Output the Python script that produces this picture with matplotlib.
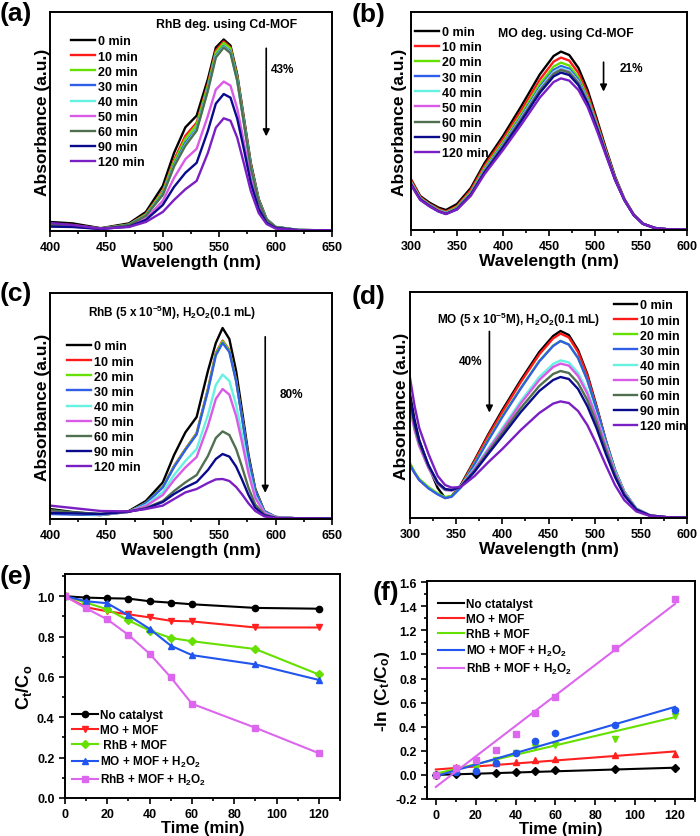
import matplotlib
matplotlib.use("Agg")
import matplotlib.pyplot as plt
from matplotlib.ticker import AutoMinorLocator, MultipleLocator, FormatStrFormatter

plt.rcParams['font.family'] = ['Liberation Sans', 'DejaVu Sans']
plt.rcParams['font.weight'] = 'bold'
plt.rcParams['mathtext.fontset'] = 'custom'
plt.rcParams['mathtext.rm'] = 'Liberation Sans:bold'
plt.rcParams['mathtext.bf'] = 'Liberation Sans:bold'
plt.rcParams['mathtext.it'] = 'Liberation Sans:bold'
plt.rcParams['mathtext.default'] = 'bf'

# ---- data ----
times = ['0 min', '10 min', '20 min', '30 min', '40 min', '50 min', '60 min', '90 min', '120 min']
spec_colors = ['#000000', '#ff1a1a', '#66e000', '#2f5fe8', '#66f2e0', '#d95ae6', '#4f6f4f', '#0a0a8c', '#7a1fc4']

# (a) RhB, Cd-MOF
wl_a = [400, 420, 445, 470, 485, 500, 510, 520, 530, 540, 547, 554, 560, 566, 572, 578, 585, 592, 600, 620, 650]
abs_a = [
    [0.045, 0.038, 0.014, 0.038, 0.095, 0.225, 0.39, 0.517, 0.575, 0.758, 0.915, 0.955, 0.925, 0.78, 0.56, 0.34, 0.16, 0.06, 0.02, 0.005, 0.003],
    [0.035, 0.03, 0.012, 0.033, 0.085, 0.2, 0.355, 0.475, 0.54, 0.735, 0.9, 0.945, 0.915, 0.77, 0.55, 0.33, 0.155, 0.058, 0.02, 0.005, 0.003],
    [0.03, 0.028, 0.012, 0.032, 0.082, 0.195, 0.345, 0.46, 0.53, 0.725, 0.89, 0.938, 0.91, 0.765, 0.545, 0.325, 0.152, 0.057, 0.02, 0.005, 0.003],
    [0.028, 0.025, 0.011, 0.03, 0.078, 0.185, 0.33, 0.44, 0.51, 0.71, 0.875, 0.922, 0.895, 0.755, 0.54, 0.32, 0.15, 0.056, 0.02, 0.005, 0.003],
    [0.028, 0.025, 0.011, 0.03, 0.077, 0.182, 0.325, 0.43, 0.505, 0.705, 0.87, 0.918, 0.89, 0.75, 0.535, 0.318, 0.149, 0.056, 0.02, 0.005, 0.003],
    [0.025, 0.022, 0.01, 0.025, 0.062, 0.15, 0.265, 0.358, 0.41, 0.575, 0.705, 0.745, 0.725, 0.61, 0.44, 0.26, 0.12, 0.045, 0.016, 0.004, 0.003],
    [0.03, 0.027, 0.012, 0.03, 0.076, 0.18, 0.322, 0.425, 0.5, 0.7, 0.865, 0.915, 0.887, 0.748, 0.533, 0.317, 0.148, 0.056, 0.02, 0.005, 0.003],
    [0.022, 0.02, 0.01, 0.022, 0.055, 0.13, 0.22, 0.29, 0.34, 0.5, 0.635, 0.683, 0.665, 0.56, 0.405, 0.24, 0.11, 0.04, 0.015, 0.004, 0.003],
    [0.04, 0.03, 0.012, 0.02, 0.045, 0.095, 0.155, 0.208, 0.25, 0.39, 0.515, 0.562, 0.55, 0.465, 0.335, 0.2, 0.09, 0.035, 0.012, 0.004, 0.003],
]

# (b) MO, Cd-MOF
wl_b = [300, 310, 320, 330, 338, 350, 365, 380, 400, 420, 440, 455, 463, 472, 482, 492, 502, 512, 522, 532, 542, 552, 565, 580, 600]
abs_b = [
    [0.253, 0.17, 0.137, 0.112, 0.1, 0.13, 0.21, 0.335, 0.47, 0.62, 0.778, 0.87, 0.892, 0.875, 0.81, 0.7, 0.555, 0.405, 0.265, 0.155, 0.078, 0.032, 0.01, 0.003, 0.002],
    [0.25, 0.165, 0.13, 0.105, 0.092, 0.12, 0.2, 0.322, 0.455, 0.6, 0.752, 0.842, 0.862, 0.847, 0.785, 0.68, 0.542, 0.397, 0.26, 0.153, 0.077, 0.032, 0.01, 0.003, 0.002],
    [0.24, 0.16, 0.127, 0.1, 0.088, 0.115, 0.19, 0.31, 0.44, 0.582, 0.73, 0.817, 0.837, 0.822, 0.763, 0.662, 0.53, 0.39, 0.256, 0.151, 0.076, 0.031, 0.01, 0.003, 0.002],
    [0.235, 0.158, 0.125, 0.098, 0.085, 0.11, 0.185, 0.302, 0.43, 0.57, 0.715, 0.8, 0.82, 0.806, 0.75, 0.652, 0.522, 0.385, 0.253, 0.15, 0.075, 0.031, 0.01, 0.003, 0.002],
    [0.235, 0.157, 0.124, 0.097, 0.084, 0.108, 0.182, 0.298, 0.425, 0.563, 0.707, 0.79, 0.81, 0.797, 0.742, 0.646, 0.518, 0.383, 0.252, 0.15, 0.075, 0.031, 0.01, 0.003, 0.002],
    [0.232, 0.156, 0.123, 0.096, 0.083, 0.107, 0.18, 0.295, 0.422, 0.558, 0.7, 0.783, 0.803, 0.79, 0.737, 0.642, 0.516, 0.382, 0.252, 0.15, 0.075, 0.031, 0.01, 0.003, 0.002],
    [0.23, 0.155, 0.122, 0.095, 0.082, 0.106, 0.179, 0.293, 0.42, 0.555, 0.697, 0.78, 0.8, 0.787, 0.734, 0.64, 0.515, 0.381, 0.251, 0.15, 0.075, 0.031, 0.01, 0.003, 0.002],
    [0.228, 0.153, 0.12, 0.093, 0.08, 0.104, 0.176, 0.288, 0.413, 0.546, 0.686, 0.768, 0.787, 0.775, 0.724, 0.633, 0.51, 0.378, 0.25, 0.149, 0.075, 0.031, 0.01, 0.003, 0.002],
    [0.225, 0.15, 0.118, 0.092, 0.08, 0.102, 0.171, 0.28, 0.4, 0.528, 0.662, 0.74, 0.758, 0.747, 0.7, 0.615, 0.498, 0.372, 0.248, 0.149, 0.075, 0.031, 0.01, 0.003, 0.003],
]

# (c) RhB + H2O2
wl_c = [400, 420, 445, 470, 485, 500, 510, 520, 530, 540, 547, 553, 559, 565, 570, 576, 582, 590, 600, 620, 650]
abs_c = [
    [0.05, 0.035, 0.022, 0.04, 0.09, 0.183, 0.32, 0.433, 0.51, 0.74, 0.88, 0.955, 0.9, 0.74, 0.55, 0.32, 0.15, 0.04, 0.01, 0.003, 0.002],
    [0.03, 0.025, 0.02, 0.036, 0.08, 0.16, 0.265, 0.35, 0.43, 0.65, 0.83, 0.892, 0.845, 0.695, 0.52, 0.3, 0.14, 0.038, 0.01, 0.003, 0.002],
    [0.03, 0.025, 0.02, 0.036, 0.08, 0.16, 0.263, 0.348, 0.428, 0.647, 0.826, 0.888, 0.842, 0.693, 0.518, 0.3, 0.14, 0.038, 0.01, 0.003, 0.002],
    [0.025, 0.022, 0.02, 0.036, 0.079, 0.158, 0.26, 0.345, 0.423, 0.64, 0.818, 0.88, 0.835, 0.688, 0.515, 0.298, 0.139, 0.038, 0.01, 0.003, 0.002],
    [0.035, 0.028, 0.022, 0.036, 0.07, 0.135, 0.22, 0.29, 0.35, 0.52, 0.67, 0.722, 0.69, 0.57, 0.43, 0.25, 0.115, 0.032, 0.009, 0.003, 0.002],
    [0.04, 0.03, 0.024, 0.036, 0.065, 0.12, 0.195, 0.258, 0.31, 0.465, 0.6, 0.65, 0.622, 0.515, 0.39, 0.228, 0.105, 0.03, 0.008, 0.003, 0.002],
    [0.045, 0.033, 0.026, 0.037, 0.055, 0.09, 0.14, 0.183, 0.22, 0.315, 0.405, 0.438, 0.42, 0.35, 0.265, 0.155, 0.072, 0.022, 0.006, 0.003, 0.002],
    [0.03, 0.028, 0.025, 0.037, 0.052, 0.085, 0.125, 0.158, 0.185, 0.245, 0.3, 0.325, 0.312, 0.262, 0.2, 0.12, 0.056, 0.018, 0.005, 0.003, 0.002],
    [0.067, 0.055, 0.04, 0.038, 0.05, 0.067, 0.1, 0.133, 0.15, 0.18, 0.198, 0.2, 0.19, 0.16, 0.125, 0.078, 0.04, 0.013, 0.004, 0.003, 0.002],
]

# (d) MO + H2O2
wl_d = [300, 305, 310, 320, 330, 338, 345, 355, 370, 385, 400, 420, 440, 455, 463, 472, 482, 492, 502, 512, 522, 532, 545, 560, 580, 600]
abs_d = [
    [0.62, 0.49, 0.39, 0.26, 0.15, 0.1, 0.11, 0.165, 0.29, 0.42, 0.54, 0.69, 0.83, 0.91, 0.935, 0.915, 0.84, 0.72, 0.56, 0.39, 0.24, 0.13, 0.045, 0.012, 0.003, 0.002],
    [0.265, 0.225, 0.19, 0.15, 0.12, 0.1, 0.108, 0.16, 0.285, 0.413, 0.53, 0.68, 0.818, 0.898, 0.922, 0.903, 0.83, 0.712, 0.555, 0.387, 0.238, 0.129, 0.045, 0.012, 0.003, 0.002],
    [0.275, 0.23, 0.195, 0.155, 0.123, 0.105, 0.11, 0.155, 0.275, 0.395, 0.51, 0.65, 0.785, 0.862, 0.885, 0.868, 0.8, 0.69, 0.545, 0.385, 0.24, 0.132, 0.047, 0.013, 0.003, 0.002],
    [0.265, 0.225, 0.19, 0.148, 0.118, 0.1, 0.106, 0.152, 0.27, 0.39, 0.505, 0.648, 0.783, 0.86, 0.885, 0.867, 0.8, 0.69, 0.545, 0.385, 0.24, 0.132, 0.047, 0.013, 0.003, 0.002],
    [0.55, 0.44, 0.36, 0.25, 0.17, 0.14, 0.138, 0.16, 0.25, 0.35, 0.45, 0.585, 0.705, 0.77, 0.788, 0.778, 0.725, 0.635, 0.51, 0.37, 0.235, 0.13, 0.048, 0.013, 0.003, 0.002],
    [0.55, 0.44, 0.36, 0.25, 0.17, 0.14, 0.137, 0.158, 0.245, 0.343, 0.44, 0.573, 0.69, 0.755, 0.772, 0.762, 0.71, 0.622, 0.5, 0.36, 0.228, 0.126, 0.046, 0.013, 0.003, 0.002],
    [0.58, 0.46, 0.375, 0.26, 0.175, 0.143, 0.14, 0.157, 0.238, 0.332, 0.425, 0.55, 0.66, 0.72, 0.735, 0.725, 0.675, 0.59, 0.475, 0.342, 0.218, 0.12, 0.044, 0.012, 0.003, 0.002],
    [0.6, 0.475, 0.385, 0.265, 0.178, 0.145, 0.14, 0.156, 0.232, 0.322, 0.41, 0.53, 0.635, 0.69, 0.705, 0.695, 0.645, 0.56, 0.45, 0.322, 0.205, 0.113, 0.042, 0.012, 0.003, 0.002],
    [0.7, 0.56, 0.45, 0.32, 0.21, 0.165, 0.152, 0.155, 0.21, 0.28, 0.345, 0.44, 0.525, 0.572, 0.583, 0.575, 0.535, 0.465, 0.37, 0.265, 0.165, 0.09, 0.033, 0.01, 0.003, 0.002],
]

# (e) C/C0 vs time
t_min = [0, 10, 20, 30, 40, 50, 60, 90, 120]
kin_labels = ['No catalyst', 'MO + MOF', ' RhB + MOF', 'MO + MOF + H$_2$O$_2$', 'RhB + MOF + H$_2$O$_2$']
kin_colors = ['#000000', '#ff2020', '#66e000', '#2255ee', '#dd66ee']
kin_markers = ['o', 'v', 'D', '^', 's']
c_none = [1.0, 0.993, 0.99, 0.988, 0.975, 0.968, 0.96, 0.942, 0.938]
c_mo = [1.0, 0.945, 0.925, 0.91, 0.895, 0.878, 0.875, 0.845, 0.845]
c_rhb = [1.0, 0.968, 0.935, 0.88, 0.83, 0.793, 0.777, 0.738, 0.612]
c_mo_h2o2 = [1.0, 0.975, 0.965, 0.905, 0.838, 0.755, 0.708, 0.662, 0.585]
c_rhb_h2o2 = [1.0, 0.94, 0.885, 0.808, 0.715, 0.598, 0.467, 0.348, 0.222]

# (f) -ln(C/C0) points and fitted lines
fit_labels = ['No ctatalyst', 'MO + MOF', 'RhB + MOF', 'MO + MOF + H$_2$O$_2$', 'RhB + MOF + H$_2$O$_2$']
fit_markers = ['D', '^', 'v', 'o', 's']
ln_none = [0.0, 0.007, 0.01, 0.012, 0.025, 0.032, 0.04, 0.045, 0.06]
ln_mo = [0.0, 0.065, 0.05, 0.1, 0.11, 0.125, 0.13, 0.165, 0.175]
ln_rhb = [0.0, 0.03, 0.06, 0.125, 0.185, 0.23, 0.25, 0.3, 0.49]
ln_mo_h2o2 = [0.0, 0.025, 0.035, 0.1, 0.18, 0.28, 0.345, 0.415, 0.535]
ln_rhb_h2o2 = [0.0, 0.06, 0.12, 0.21, 0.34, 0.515, 0.65, 1.05, 1.46]
fit_t = [0, 120]
fit_none = [0.0, 0.06]
fit_mo = [0.045, 0.195]
fit_rhb = [0.01, 0.48]
fit_mo_h2o2 = [-0.01, 0.565]
fit_rhb_h2o2 = [-0.1, 1.42]

W, H = 700, 837
fig = plt.figure(figsize=(7, 8.37), dpi=100)


def px_axes(l, r, t, b):
    return fig.add_axes([l / W, 1 - b / H, (r - l) / W, (b - t) / H])


def style(ax):
    for s in ax.spines.values():
        s.set_linewidth(1.4)
    ax.tick_params(which='both', direction='out', width=1.2, labelsize=9, top=False, right=False)
    ax.tick_params(which='major', length=4)
    ax.tick_params(which='minor', length=2.5)
    ax.xaxis.set_minor_locator(AutoMinorLocator(2))


def spectrum(ax, wl, rows, xlim, ylim, ypad):
    for lab, col, ys in zip(times, spec_colors, rows):
        ax.plot(wl, ys, color=col, lw=1.7, label=lab)
    ax.set_xlim(*xlim)
    ax.set_ylim(*ylim)
    ax.set_yticks([])
    ax.xaxis.set_major_locator(MultipleLocator(50))
    style(ax)
    ax.set_xlabel('Wavelength (nm)', fontsize=12.5, fontweight='bold', labelpad=0.5)
    ax.set_ylabel('Absorbance (a.u.)', fontsize=12.5, fontweight='bold', labelpad=ypad)


leg_kw = dict(frameon=False, fontsize=9, handlelength=1.9, handletextpad=0.25,
              labelspacing=0.25, borderpad=0, borderaxespad=0, loc='upper left')
arrow_kw = dict(arrowstyle='-|>', color='k', lw=1.2, mutation_scale=10)

# (a)
ax = px_axes(50, 332, 13, 232)
spectrum(ax, wl_a, abs_a, (400, 650), (0, 1.092), 0)
ax.legend(bbox_to_anchor=(0.075, 0.893), **leg_kw)
ax.text(494, 1.033, 'RhB deg. using Cd-MOF', fontsize=8.8, va='center')
ax.annotate('', xy=(591.7, 0.458), xytext=(591.7, 0.925), arrowprops=arrow_kw)
ax.text(596, 0.81, '43%', fontsize=8.5, va='center')

# (b)
ax = px_axes(411, 687, 13, 231)
spectrum(ax, wl_b, abs_b, (300, 600), (0, 1.09), 3)
ax.legend(bbox_to_anchor=(0.015, 0.935), **leg_kw)
ax.text(395, 0.987, 'MO deg. using Cd-MOF', fontsize=8.8, va='center')
ax.annotate('', xy=(509.3, 0.678), xytext=(509.3, 0.853), arrowprops=arrow_kw)
ax.text(527, 0.812, '21%', fontsize=8.5, va='center')

# (c)
ax = px_axes(50, 332, 294, 520)
spectrum(ax, wl_c, abs_c, (400, 650), (0, 1.13), 0)
ax.legend(bbox_to_anchor=(0.06, 0.79), **leg_kw)
ax.text(434, 1.033, 'RhB (5 x 10$^{-5}$M), H$_2$O$_2$(0.1 mL)', fontsize=8.5, va='center')
ax.annotate('', xy=(590.8, 0.117), xytext=(590.8, 0.925), arrowprops=arrow_kw)
ax.text(604, 0.625, '80%', fontsize=8.5, va='center')

# (d)
ax = px_axes(410, 687, 293, 519)
spectrum(ax, wl_d, abs_d, (300, 600), (0, 1.13), 1)
ax.legend(bbox_to_anchor=(0.735, 0.967), **leg_kw)
ax.text(329.6, 0.997, 'MO (5 x 10$^{-5}$M), H$_2$O$_2$(0.1 mL)', fontsize=8.5, va='center')
ax.annotate('', xy=(386, 0.513), xytext=(386, 0.947), arrowprops=arrow_kw)
ax.text(352.4, 0.783, '40%', fontsize=8.5, va='center')

# (e)
ax = px_axes(65, 340, 575, 799)
for lab, col, mk, ys in zip(kin_labels, kin_colors, kin_markers,
                            [c_none, c_mo, c_rhb, c_mo_h2o2, c_rhb_h2o2]):
    ax.plot(t_min, ys, color=col, marker=mk, ms=4.5, lw=1.5, label=lab)
ax.set_xlim(0, 130)
ax.set_ylim(0, 1.11)
ax.xaxis.set_major_locator(MultipleLocator(20))
ax.yaxis.set_major_locator(MultipleLocator(0.2))
ax.yaxis.set_major_formatter(FormatStrFormatter('%.1f'))
style(ax)
ax.yaxis.set_minor_locator(AutoMinorLocator(2))
ax.set_xlabel('Time (min)', fontsize=12, fontweight='bold', labelpad=0)
ax.set_ylabel('C$_t$/C$_o$', fontsize=13, fontweight='bold', labelpad=2)
ax.legend(frameon=False, fontsize=8.5, handlelength=2.2, handletextpad=0.2, labelspacing=0.25,
          borderpad=0, borderaxespad=0, loc='lower left', bbox_to_anchor=(0.025, 0.05))

# (f)
ax = px_axes(427, 695, 582, 800)
for lab, col, mk, ys, fy in zip(fit_labels, kin_colors, fit_markers,
                                [ln_none, ln_mo, ln_rhb, ln_mo_h2o2, ln_rhb_h2o2],
                                [fit_none, fit_mo, fit_rhb, fit_mo_h2o2, fit_rhb_h2o2]):
    ax.plot(t_min, ys, ls='none', color=col, marker=mk, ms=4.5)
    ax.plot(fit_t, fy, color=col, lw=1.5, label=lab)
ax.set_xlim(-4.4, 130)
ax.set_ylim(-0.2, 1.61)
ax.xaxis.set_major_locator(MultipleLocator(20))
ax.yaxis.set_major_locator(MultipleLocator(0.2))
ax.yaxis.set_major_formatter(FormatStrFormatter('%.1f'))
style(ax)
ax.yaxis.set_minor_locator(AutoMinorLocator(2))
ax.set_xlabel('Time (min)', fontsize=12, fontweight='bold', labelpad=0)
ax.set_ylabel('-ln (C$_t$/C$_o$)', fontsize=12.5, fontweight='bold', labelpad=2)
ax.legend(frameon=False, fontsize=8.5, handlelength=2.2, handletextpad=0.2, labelspacing=0.25,
          borderpad=0, borderaxespad=0, loc='upper left', bbox_to_anchor=(0.04, 0.92))

# panel letters
for lab, x, y in [('(a)', 0, 14), ('(b)', 352, 15), ('(c)', 0, 294),
                  ('(d)', 352, 297), ('(e)', 0, 577), ('(f)', 373, 593)]:
    fig.text(x / W, 1 - y / H, lab, fontsize=19, fontweight='bold', va='center', ha='left')

fig.savefig('out.png', dpi=100)
